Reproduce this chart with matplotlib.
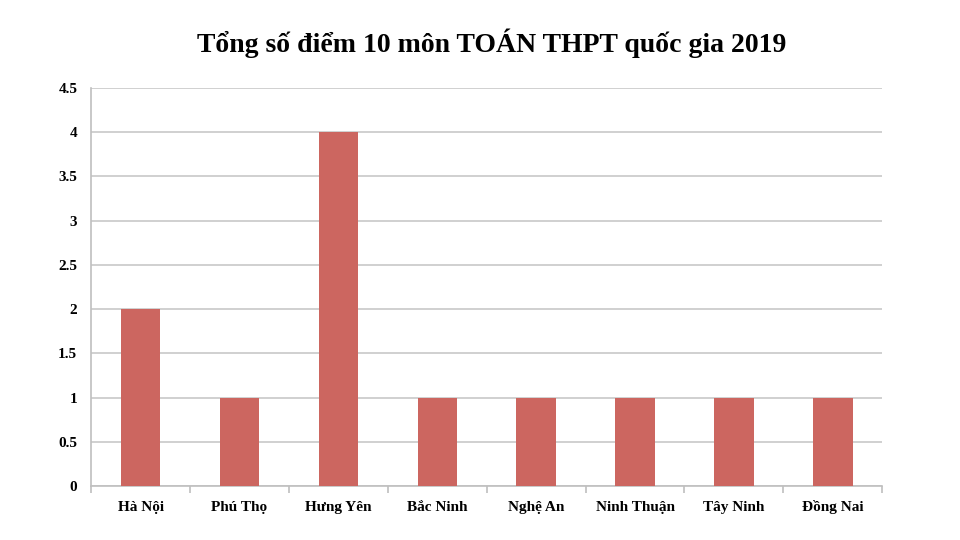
import matplotlib
matplotlib.use("Agg")
import matplotlib.pyplot as plt

provinces = ["Hà Nội", "Phú Thọ", "Hưng Yên", "Bắc Ninh", "Nghệ An",
             "Ninh Thuận", "Tây Ninh", "Đồng Nai"]
scores_10 = [2, 1, 4, 1, 1, 1, 1, 1]
y_ticks = [0, 0.5, 1, 1.5, 2, 2.5, 3, 3.5, 4, 4.5]
y_labels = ["0", "0.5", "1", "1.5", "2", "2.5", "3", "3.5", "4", "4.5"]

plt.rcParams['font.family'] = ['Liberation Serif', 'DejaVu Serif']

fig = plt.figure(figsize=(9.6, 5.4), dpi=100)
ax = fig.add_axes([0.095, 0.1, 0.824, 0.737])

x = range(len(provinces))
ax.bar(x, scores_10, width=0.4, color="#cc6660", zorder=3)

ax.set_xlim(-0.5, len(provinces) - 0.5)
ax.set_ylim(0, 4.5)
ax.set_yticks(y_ticks)
ax.set_yticklabels(y_labels, fontsize=11, fontweight="bold")
ax.set_xticks(list(x))
ax.set_xticklabels(provinces, fontsize=11, fontweight="bold", va="baseline")
ax.tick_params(axis="x", length=0, pad=18)
ax.tick_params(axis="y", length=0, pad=10)

# tick marks at category boundaries
ax.set_xticks([i - 0.5 for i in range(len(provinces) + 1)], minor=True)
ax.tick_params(axis="x", which="minor", length=5, color="#bfbfbf", width=1.2)

ax.grid(axis="y", color="#c8c8c8", linewidth=1.2, zorder=0)
for side in ["top", "right"]:
    ax.spines[side].set_visible(False)
ax.spines["left"].set_color("#bfbfbf")
ax.spines["bottom"].set_color("#bfbfbf")
ax.spines["left"].set_linewidth(1.2)
ax.spines["bottom"].set_linewidth(1.2)

fig.text(0.512, 0.92, "Tổng số điểm 10 môn TOÁN THPT quốc gia 2019",
         ha="center", va="center", fontsize=20, fontweight="bold")

fig.savefig("out.png", dpi=100, facecolor="white")
